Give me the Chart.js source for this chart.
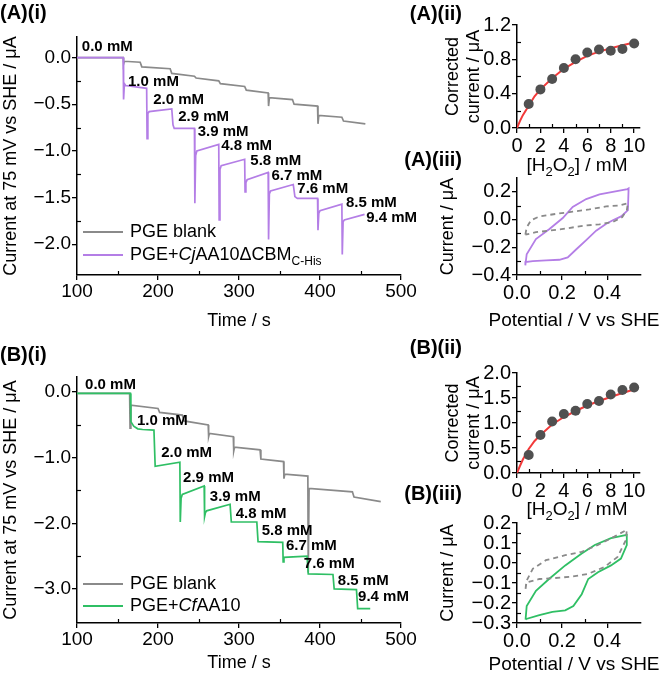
<!DOCTYPE html>
<html>
<head>
<meta charset="utf-8">
<script src="https://cdn.jsdelivr.net/npm/chart.js@4.4.1/dist/chart.umd.min.js"></script>
<style>
    body { margin: 0; background: #fff; }
    #figura { position: relative; width: 664px; height: 678px; overflow: hidden; background: #fff;
              font-family: "Liberation Sans", Arial, sans-serif; color: #000; }
    #figura canvas { position: absolute; }
    .painel { position: absolute; font-weight: bold; font-size: 20px; line-height: 20px; white-space: nowrap; }
    .legenda { position: absolute; left: 83px; height: 20px; font-size: 18px; line-height: 20px; white-space: nowrap; }
    .legenda .amostra { display: inline-block; width: 40px; height: 0; border-top: 2px solid; vertical-align: middle; margin-right: 7px; }
    .legenda sub { font-size: 12px; }
    .tituloX { position: absolute; width: 220px; text-align: center; font-size: 19px; line-height: 20px; white-space: nowrap; }
    .tituloX sub { font-size: 13px; line-height: 0; }
</style>
</head>
<body>
<div id="figura">
    <canvas id="gA1" width="420" height="312" style="left:0;top:20px"></canvas>
    <canvas id="gB1" width="420" height="318" style="left:0;top:360px"></canvas>
    <canvas id="gA2" width="222" height="162" style="left:442px;top:10px"></canvas>
    <canvas id="gA3" width="228" height="165" style="left:436px;top:165px"></canvas>
    <canvas id="gB2" width="222" height="158" style="left:442px;top:360px"></canvas>
    <canvas id="gB3" width="228" height="168" style="left:436px;top:510px"></canvas>

    <div class="painel" style="left:0;top:2px">(A)(i)</div>
    <div class="painel" style="left:0;top:344px">(B)(i)</div>
    <div class="painel" style="right:202px;top:3px">(A)(ii)</div>
    <div class="painel" style="right:202px;top:149px">(A)(iii)</div>
    <div class="painel" style="right:202px;top:337px">(B)(ii)</div>
    <div class="painel" style="right:202px;top:483px">(B)(iii)</div>

    <div class="tituloX" style="left:467px;top:155px">[H<sub>2</sub>O<sub>2</sub>] / mM</div>
    <div class="tituloX" style="left:464px;top:310px">Potential / V vs SHE</div>
    <div class="tituloX" style="left:467px;top:499px">[H<sub>2</sub>O<sub>2</sub>] / mM</div>
    <div class="tituloX" style="left:464px;top:654px">Potential / V vs SHE</div>

    <div class="legenda" style="top:221px"><span class="amostra" style="border-color:#8a8a8a"></span>PGE blank</div>
    <div class="legenda" style="top:244px"><span class="amostra" style="border-color:#b47ee6"></span>PGE+<i>Cj</i>AA10ΔCBM<sub>C-His</sub></div>
    <div class="legenda" style="top:573px"><span class="amostra" style="border-color:#8a8a8a"></span>PGE blank</div>
    <div class="legenda" style="top:595px"><span class="amostra" style="border-color:#2fbf64"></span>PGE+<i>Cf</i>AA10</div>
</div>

<script>
// ===== DADOS: (A)(i) cronoamperometria =====
const tempoA_enzima = [100, 157, 157.5, 158.5, 160, 186, 186.5, 187.5, 189, 217, 218.5, 220, 245, 245.5, 246.5, 248,
    275, 275.5, 276.5, 278, 307, 307.5, 308.5, 310, 336, 336.5, 337.5, 339, 367, 369, 372, 397, 397.5, 398.5, 400,
    427, 427.5, 428.5, 430, 455];
const correnteA_enzima = [0, 0, -0.45, -0.28, -0.30, -0.33, -0.87, -0.60, -0.58, -0.55, -0.72, -0.76, -0.76, -1.56, -1.05, -1.00,
    -0.93, -1.74, -1.20, -1.16, -1.09, -1.44, -1.34, -1.31, -1.23, -1.95, -1.46, -1.43, -1.36, -1.49, -1.51, -1.51, -1.85, -1.67, -1.64,
    -1.57, -2.11, -1.76, -1.74, -1.68];
const tempoA_branco = [100, 157, 157.5, 158.5, 178, 180, 215, 217, 245, 247, 275, 277, 307, 309, 336, 336.5, 337.5,
    366, 368, 397, 397.5, 398.5, 427, 429, 456];
const correnteA_branco = [0, 0, -0.07, -0.04, -0.05, -0.10, -0.12, -0.17, -0.20, -0.22, -0.25, -0.28, -0.31, -0.35, -0.38, -0.52, -0.43,
    -0.45, -0.50, -0.52, -0.71, -0.62, -0.64, -0.68, -0.71];

// ===== DADOS: (B)(i) cronoamperometria =====
const tempoB_enzima = [100, 166, 166.5, 170, 175, 181, 195, 196.5, 227, 227.5, 228.5, 230, 257, 257.5, 258.5, 260,
    289, 290.5, 322, 323.5, 354, 354.5, 355.5, 384, 385.5, 416, 417.5, 445, 446.5, 462];
const correnteB_enzima = [-0.02, -0.02, -0.45, -0.52, -0.56, -0.57, -0.58, -1.13, -1.07, -1.98, -1.62, -1.56, -1.43, -1.90, -1.84, -1.81,
    -1.71, -1.98, -1.98, -2.28, -2.29, -2.59, -2.52, -2.50, -2.77, -2.78, -3.00, -3.01, -3.30, -3.30];
const tempoB_branco = [100, 165, 165.5, 166.5, 200, 202, 230, 232, 262, 262.5, 263.5, 293, 293.5, 294.5, 326, 327,
    355, 355.5, 356.5, 385, 385.5, 386.5, 440, 442, 475];
const correnteB_branco = [-0.02, -0.02, -0.55, -0.20, -0.25, -0.31, -0.35, -0.44, -0.50, -0.68, -0.63, -0.68, -0.90, -0.84, -0.88, -1.02,
    -1.06, -1.32, -1.25, -1.28, -2.75, -1.47, -1.52, -1.60, -1.67];

// ===== RÓTULOS DE CONCENTRAÇÃO =====
const rotulosConc = ['0.0 mM', '1.0 mM', '2.0 mM', '2.9 mM', '3.9 mM', '4.8 mM', '5.8 mM', '6.7 mM', '7.6 mM', '8.5 mM', '9.4 mM'];
const rotulosA_tempo = [106, 163, 194, 225, 249, 278, 314, 340, 372, 432, 457];
const rotulosA_corrente = [0.115, -0.26, -0.45, -0.64, -0.80, -0.95, -1.11, -1.27, -1.41, -1.56, -1.72];
const rotulosB_tempo = [110, 174, 204, 231, 264, 296, 328, 358, 380, 422, 447];
const rotulosB_corrente = [0.106, -0.44, -0.92, -1.30, -1.59, -1.85, -2.12, -2.35, -2.62, -2.88, -3.12];

// ===== DADOS: (ii) corrente corrigida =====
const concH2O2 = [1, 2, 3, 4, 5, 6, 7, 8, 9, 10];
const corrigidaA = [0.28, 0.45, 0.57, 0.70, 0.80, 0.88, 0.915, 0.90, 0.92, 0.985];
const corrigidaB = [0.36, 0.76, 1.03, 1.18, 1.245, 1.38, 1.44, 1.57, 1.66, 1.71];
const ajusteConc = [0, 0.25, 0.5, 1, 1.5, 2, 3, 4, 5, 6, 7, 8, 9, 10];
const ajusteA = [0, 0.08, 0.15, 0.26, 0.37, 0.45, 0.58, 0.69, 0.77, 0.84, 0.89, 0.93, 0.965, 0.995];
const ajusteB = [0, 0.14, 0.27, 0.48, 0.64, 0.76, 0.97, 1.12, 1.24, 1.35, 1.44, 1.52, 1.60, 1.67];

// ===== DADOS: (iii) voltametria cíclica =====
const potA_enzima = [0.037, 0.043, 0.084, 0.144, 0.203, 0.247, 0.307, 0.366, 0.425, 0.49, 0.495, 0.492, 0.462, 0.425,
    0.396, 0.351, 0.307, 0.262, 0.225, 0.188, 0.129, 0.070, 0.037, 0.037];
const cvA_enzima = [-0.33, -0.25, -0.141, -0.068, 0.011, 0.091, 0.148, 0.182, 0.20, 0.22, 0.225, 0.068, 0.023, -0.005,
    -0.03, -0.08, -0.148, -0.216, -0.273, -0.29, -0.295, -0.30, -0.307, -0.33];
const potA_branco = [0.037, 0.043, 0.062, 0.10, 0.173, 0.247, 0.321, 0.396, 0.455, 0.492, 0.487, 0.467, 0.425, 0.366,
    0.292, 0.218, 0.144, 0.084, 0.037];
const cvA_branco = [-0.109, -0.057, -0.005, 0.023, 0.041, 0.057, 0.073, 0.095, 0.102, 0.118, 0.068, 0.018, -0.018, -0.034,
    -0.045, -0.064, -0.08, -0.091, -0.109];
const potB_enzima = [0.038, 0.043, 0.084, 0.142, 0.214, 0.287, 0.345, 0.417, 0.487, 0.487, 0.461, 0.417, 0.359, 0.316,
    0.287, 0.25, 0.214, 0.157, 0.099, 0.041, 0.038];
const cvB_enzima = [-0.283, -0.215, -0.139, -0.08, -0.012, 0.047, 0.09, 0.124, 0.141, 0.09, 0.022, -0.012, -0.046, -0.08,
    -0.156, -0.215, -0.237, -0.244, -0.261, -0.28, -0.283];
const potB_branco = [0.038, 0.043, 0.07, 0.128, 0.214, 0.287, 0.359, 0.432, 0.487, 0.483, 0.446, 0.388, 0.316, 0.243,
    0.171, 0.099, 0.041, 0.038];
const cvB_branco = [-0.13, -0.088, -0.029, 0.014, 0.039, 0.056, 0.09, 0.132, 0.166, 0.115, 0.03, -0.02, -0.054, -0.068,
    -0.075, -0.08, -0.097, -0.13];

// ===== MARCAS DOS EIXOS =====
const ticksTempo = [100, 200, 300, 400, 500];
const ticksA1_y = [0, -0.5, -1.0, -1.5, -2.0];
const ticksB1_y = [0, -1.0, -2.0, -3.0];
const ticksConc = [0, 2, 4, 6, 8, 10];
const ticksA2_y = [0, 0.4, 0.8, 1.2];
const ticksB2_y = [0, 0.5, 1.0, 1.5, 2.0];
const ticksPot = [0, 0.2, 0.4];
const ticksA3_y = [-0.4, -0.2, 0, 0.2];
const ticksB3_y = [-0.3, -0.2, -0.1, 0, 0.1, 0.2];

// ===== CORES =====
const roxo = '#b47ee6';
const verde = '#2fbf64';
const cinza = '#8a8a8a';
const vermelho = '#f23a3a';
const cinzaPonto = '#505050';
const fonte = '"Liberation Sans", Arial, sans-serif';

Chart.defaults.font.family = fonte;
Chart.defaults.color = '#000';
Chart.defaults.animation = false;

// ===== UTILITÁRIOS =====
function pares(xs, ys) {
    return xs.map((x, i) => ({ x: x, y: ys[i] }));
}

function formatar(casas) {
    return v => (v < 0 ? '\u2212' : '') + Math.abs(v).toFixed(casas);
}

// traços menores entre as marcas principais, voltados para dentro
function meios(lista) {
    const r = [];
    for (let i = 0; i < lista.length - 1; i++) r.push((lista[i] + lista[i + 1]) / 2);
    return r;
}

const pluginMenores = {
    id: 'tracosMenores',
    afterDraw(chart, args, opcoes) {
        if (!opcoes.x) return;
        const ctx = chart.ctx;
        const { x, y } = chart.scales;
        const area = chart.chartArea;
        ctx.save();
        ctx.strokeStyle = '#000';
        ctx.lineWidth = 1.2;
        opcoes.x.forEach(v => {
            const px = Math.round(x.getPixelForValue(v)) + 0.5;
            ctx.beginPath(); ctx.moveTo(px, area.bottom); ctx.lineTo(px, area.bottom - 4); ctx.stroke();
        });
        opcoes.y.forEach(v => {
            const py = Math.round(y.getPixelForValue(v)) + 0.5;
            ctx.beginPath(); ctx.moveTo(area.left, py); ctx.lineTo(area.left + 4, py); ctx.stroke();
        });
        ctx.restore();
    }
};

const pluginRotulos = {
    id: 'rotulosConc',
    afterDatasetsDraw(chart, args, opcoes) {
        if (!opcoes.textos) return;
        const ctx = chart.ctx;
        const { x, y } = chart.scales;
        ctx.save();
        ctx.font = 'bold 15px ' + fonte;
        ctx.fillStyle = '#000';
        ctx.textAlign = 'left';
        ctx.textBaseline = 'middle';
        opcoes.textos.forEach((t, i) => {
            ctx.fillText(t, x.getPixelForValue(opcoes.xs[i]), y.getPixelForValue(opcoes.ys[i]));
        });
        ctx.restore();
    }
};

Chart.register(pluginMenores, pluginRotulos);

function eixo(o) {
    const vertical = o.pos === 'left';
    return {
        type: 'linear',
        position: o.pos,
        min: o.min,
        max: o.max,
        ticksLista: o.ticks,
        afterBuildTicks: s => { s.ticks = o.ticks.map(v => ({ value: v })); },
        afterFit: s => { if (vertical) s.width = o.tam; else s.height = o.tam; },
        grid: { display: true, drawOnChartArea: false, drawTicks: true, tickLength: 5, color: '#000', tickColor: '#000', lineWidth: 1.3 },
        border: { display: true, color: '#000', width: 1.5 },
        ticks: { font: { size: o.fonte }, padding: o.pad, color: '#000', maxRotation: 0, autoSkip: false, callback: formatar(o.casas) },
        title: { display: !!o.titulo, text: o.titulo || '', color: '#000', font: { size: 18 }, padding: o.padTitulo || 0 }
    };
}

function criarGrafico(id, datasets, eixoX, eixoY, padding, extras = {}) {
    const ctx = document.getElementById(id).getContext('2d');
    return new Chart(ctx, {
        type: 'scatter',
        data: { datasets: datasets },
        options: {
            responsive: false,
            maintainAspectRatio: false,
            layout: { padding: padding },
            scales: { x: eixoX, y: eixoY },
            plugins: {
                legend: { display: false },
                tooltip: { enabled: false },
                tracosMenores: { x: meios(eixoX.ticksLista), y: meios(eixoY.ticksLista) },
                rotulosConc: extras.rotulos || {}
            }
        }
    });
}

function linha(xs, ys, cor, largura, tracejado) {
    return {
        data: pares(xs, ys), showLine: true, borderColor: cor, backgroundColor: cor,
        borderWidth: largura, pointRadius: 0, tension: 0, borderDash: tracejado || []
    };
}

function pontosConc(ys) {
    return { data: pares(concH2O2, ys), showLine: false, pointRadius: 5, pointBackgroundColor: cinzaPonto, pointBorderWidth: 0, borderColor: cinzaPonto };
}

// ===== (A)(i) =====
criarGrafico('gA1',
    [linha(tempoA_enzima, correnteA_enzima, roxo, 1.7), linha(tempoA_branco, correnteA_branco, cinza, 1.7)],
    eixo({ pos: 'bottom', min: 100, max: 500, ticks: ticksTempo, casas: 0, fonte: 19, pad: 0, tam: 57, titulo: 'Time / s' }),
    eixo({ pos: 'left', min: -2.33, max: 0.22, ticks: ticksA1_y, casas: 1, fonte: 19, pad: 1, tam: 77, titulo: 'Current at 75 mV vs SHE / μA' }),
    { top: 17, right: 19, left: 0, bottom: 0 },
    { rotulos: { textos: rotulosConc, xs: rotulosA_tempo, ys: rotulosA_corrente } });

// ===== (B)(i) =====
criarGrafico('gB1',
    [linha(tempoB_enzima, correnteB_enzima, verde, 1.7), linha(tempoB_branco, correnteB_branco, cinza, 1.7)],
    eixo({ pos: 'bottom', min: 100, max: 500, ticks: ticksTempo, casas: 0, fonte: 19, pad: 0, tam: 55, titulo: 'Time / s', padTitulo: 4 }),
    eixo({ pos: 'left', min: -3.52, max: 0.23, ticks: ticksB1_y, casas: 1, fonte: 19, pad: 1, tam: 77, titulo: 'Current at 75 mV vs SHE / μA' }),
    { top: 17, right: 19, left: 0, bottom: 0 },
    { rotulos: { textos: rotulosConc, xs: rotulosB_tempo, ys: rotulosB_corrente } });

// ===== (A)(ii) =====
criarGrafico('gA2',
    [pontosConc(corrigidaA), linha(ajusteConc, ajusteA, vermelho, 2)],
    eixo({ pos: 'bottom', min: 0, max: 10.5, ticks: ticksConc, casas: 0, fonte: 20, pad: 1, tam: 44 }),
    eixo({ pos: 'left', min: 0, max: 1.2, ticks: ticksA2_y, casas: 1, fonte: 20, pad: 1, tam: 75, titulo: ['Corrected', 'current / μA'] }),
    { top: 15, right: 24, left: 0, bottom: 0 });

// ===== (A)(iii) =====
criarGrafico('gA3',
    [linha(potA_branco, cvA_branco, cinza, 1.8, [5, 4]), linha(potA_enzima, cvA_enzima, roxo, 1.8)],
    eixo({ pos: 'bottom', min: 0, max: 0.55, ticks: ticksPot, casas: 1, fonte: 20, pad: 1, tam: 55 }),
    eixo({ pos: 'left', min: -0.4, max: 0.3, ticks: ticksA3_y, casas: 1, fonte: 20, pad: 1, tam: 81, titulo: 'Current / μA', padTitulo: 1 }),
    { top: 8, right: 23, left: 0, bottom: 0 });

// ===== (B)(ii) =====
criarGrafico('gB2',
    [pontosConc(corrigidaB), linha(ajusteConc, ajusteB, vermelho, 2)],
    eixo({ pos: 'bottom', min: 0, max: 10.5, ticks: ticksConc, casas: 0, fonte: 20, pad: 1, tam: 45 }),
    eixo({ pos: 'left', min: 0, max: 2.0, ticks: ticksB2_y, casas: 1, fonte: 20, pad: 1, tam: 75, titulo: ['Corrected', 'current / μA'] }),
    { top: 13, right: 24, left: 0, bottom: 0 });

// ===== (B)(iii) =====
criarGrafico('gB3',
    [linha(potB_branco, cvB_branco, cinza, 1.8, [5, 4]), linha(potB_enzima, cvB_enzima, verde, 1.8)],
    eixo({ pos: 'bottom', min: 0, max: 0.55, ticks: ticksPot, casas: 1, fonte: 20, pad: 1, tam: 55 }),
    eixo({ pos: 'left', min: -0.3, max: 0.2, ticks: ticksB3_y, casas: 1, fonte: 20, pad: 1, tam: 81, titulo: 'Current / μA', padTitulo: 1 }),
    { top: 12, right: 23, left: 0, bottom: 0 });
</script>
</body>
</html>
